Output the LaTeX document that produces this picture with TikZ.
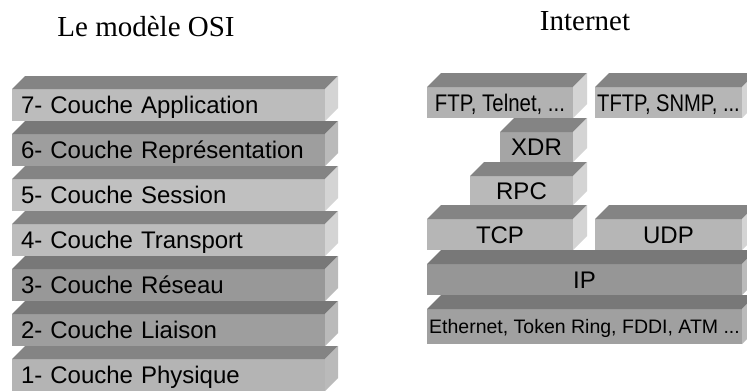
\documentclass[tikz,border=0pt]{standalone}
\usepackage{fontspec}
\setmainfont{Liberation Serif}
\newfontfamily\layerfont{Liberation Sans}
\usetikzlibrary{calc}

% gray levels used by the slabs
\definecolor{topA}{RGB}{132,132,132}
\definecolor{topB}{RGB}{120,120,120}
\definecolor{sideA}{RGB}{212,212,212}
\definecolor{sideB}{RGB}{186,186,186}
\definecolor{fr188}{RGB}{188,188,188}
\definecolor{fr158}{RGB}{158,158,158}
\definecolor{fr192}{RGB}{192,192,192}
\definecolor{fr152}{RGB}{152,152,152}
\definecolor{fr180}{RGB}{180,180,180}
\definecolor{fr178}{RGB}{178,178,178}
\definecolor{fr182}{RGB}{182,182,182}
\definecolor{fr165}{RGB}{165,165,165}
\definecolor{fr185}{RGB}{185,185,185}
\definecolor{fr150}{RGB}{150,150,150}
\definecolor{fr160}{RGB}{160,160,160}

\tikzset{
  slab/.style={inner sep=0pt, outer sep=0pt, draw=none,
    text depth=5pt, text height=22.2pt,
    font=\layerfont\fontsize{24}{28}\selectfont},
  osislab/.style={slab, minimum height=32pt, text width=295pt,
    inner xsep=9pt, align=left},
  netslab/.style={slab, align=center},
  smalltext/.style={text depth=4pt, text height=18pt,
    font=\layerfont\fontsize{19.5}{23}\selectfont},
  heading/.style={anchor=base, font=\fontsize{29}{34}\selectfont}
}

% top and right faces of a slab whose front face is node #1
\newcommand\slabfaces[5]{%
  \fill[#2] (#1.north west) -- ++(#4pt,#5pt) -- ($(#1.north east)+(#4pt,#5pt)$)
    -- (#1.north east) -- cycle;
  \fill[#3] (#1.north east) -- ++(#4pt,#5pt) -- ($(#1.south east)+(#4pt,#5pt)$)
    -- (#1.south east) -- cycle;
}

\begin{document}
\begin{tikzpicture}[x=1pt,y=-1pt]
\useasboundingbox (0,0) rectangle (747,391);
\fill[white] (0,0) rectangle (747,391);
\clip (0,0) rectangle (747,391);

% headings
\node[heading] (hosi) at (146,36) {Le modèle OSI};
\node[heading] (hnet) at (585,30) {Internet};

% OSI stack
\node[osislab, fill=fr188] (l7) at (168.5,105) {7- Couche Application};
\node[osislab, fill=fr158] (l6) at (168.5,150) {6- Couche Représentation};
\node[osislab, fill=fr192] (l5) at (168.5,195) {5- Couche Session};
\node[osislab, fill=fr188] (l4) at (168.5,240) {4- Couche Transport};
\node[osislab, fill=fr152] (l3) at (168.5,285) {3- Couche Réseau};
\node[osislab, fill=fr158] (l2) at (168.5,330) {2- Couche Liaison};
\node[osislab, fill=fr180] (l1) at (168.5,375) {1- Couche Physique};
\slabfaces{l7}{topA}{sideA}{13}{13}
\slabfaces{l6}{topB}{sideB}{13}{13}
\slabfaces{l5}{topA}{sideA}{13}{13}
\slabfaces{l4}{topA}{sideA}{13}{13}
\slabfaces{l3}{topB}{sideB}{13}{13}
\slabfaces{l2}{topB}{sideB}{13}{13}
\slabfaces{l1}{topA}{sideB}{13}{13}

% Internet stack
\node[netslab, fill=fr178, minimum width=146pt, minimum height=31pt] (ftp) at (500,102.5)
  {\scalebox{0.85}[1]{FTP, Telnet, ...}};
\node[netslab, fill=fr182, minimum width=147pt, minimum height=31pt] (tftp) at (668.5,102.5)
  {\scalebox{0.84}[1]{TFTP, SNMP, ...}};
\node[netslab, fill=fr165, minimum width=73pt, minimum height=30pt] (xdr) at (536.5,147) {XDR};
\node[netslab, fill=fr185, minimum width=103pt, minimum height=29pt] (rpc) at (521.5,190.5) {RPC};
\node[netslab, fill=fr182, minimum width=146pt, minimum height=31pt] (tcp) at (500,234.5) {TCP};
\node[netslab, fill=fr182, minimum width=147pt, minimum height=31pt] (udp) at (668.5,234.5) {UDP};
\node[netslab, fill=fr150, minimum width=315pt, minimum height=31pt] (ip) at (584.5,279.5) {IP};
\node[netslab, smalltext, fill=fr160, minimum width=315pt, minimum height=35pt] (eth) at (584.5,326.5)
  {Ethernet, Token Ring, FDDI, ATM ...};
\slabfaces{ftp}{topA}{sideA}{14}{14}
\slabfaces{tftp}{topA}{sideA}{14}{14}
\slabfaces{xdr}{topA}{sideA}{14}{14}
\slabfaces{rpc}{topA}{sideA}{14}{14}
\slabfaces{tcp}{topA}{sideA}{14}{14}
\slabfaces{udp}{topA}{sideA}{14}{14}
\slabfaces{ip}{topB}{sideB}{14}{14}
\slabfaces{eth}{topB}{sideB}{14}{14}
\end{tikzpicture}
\end{document}
